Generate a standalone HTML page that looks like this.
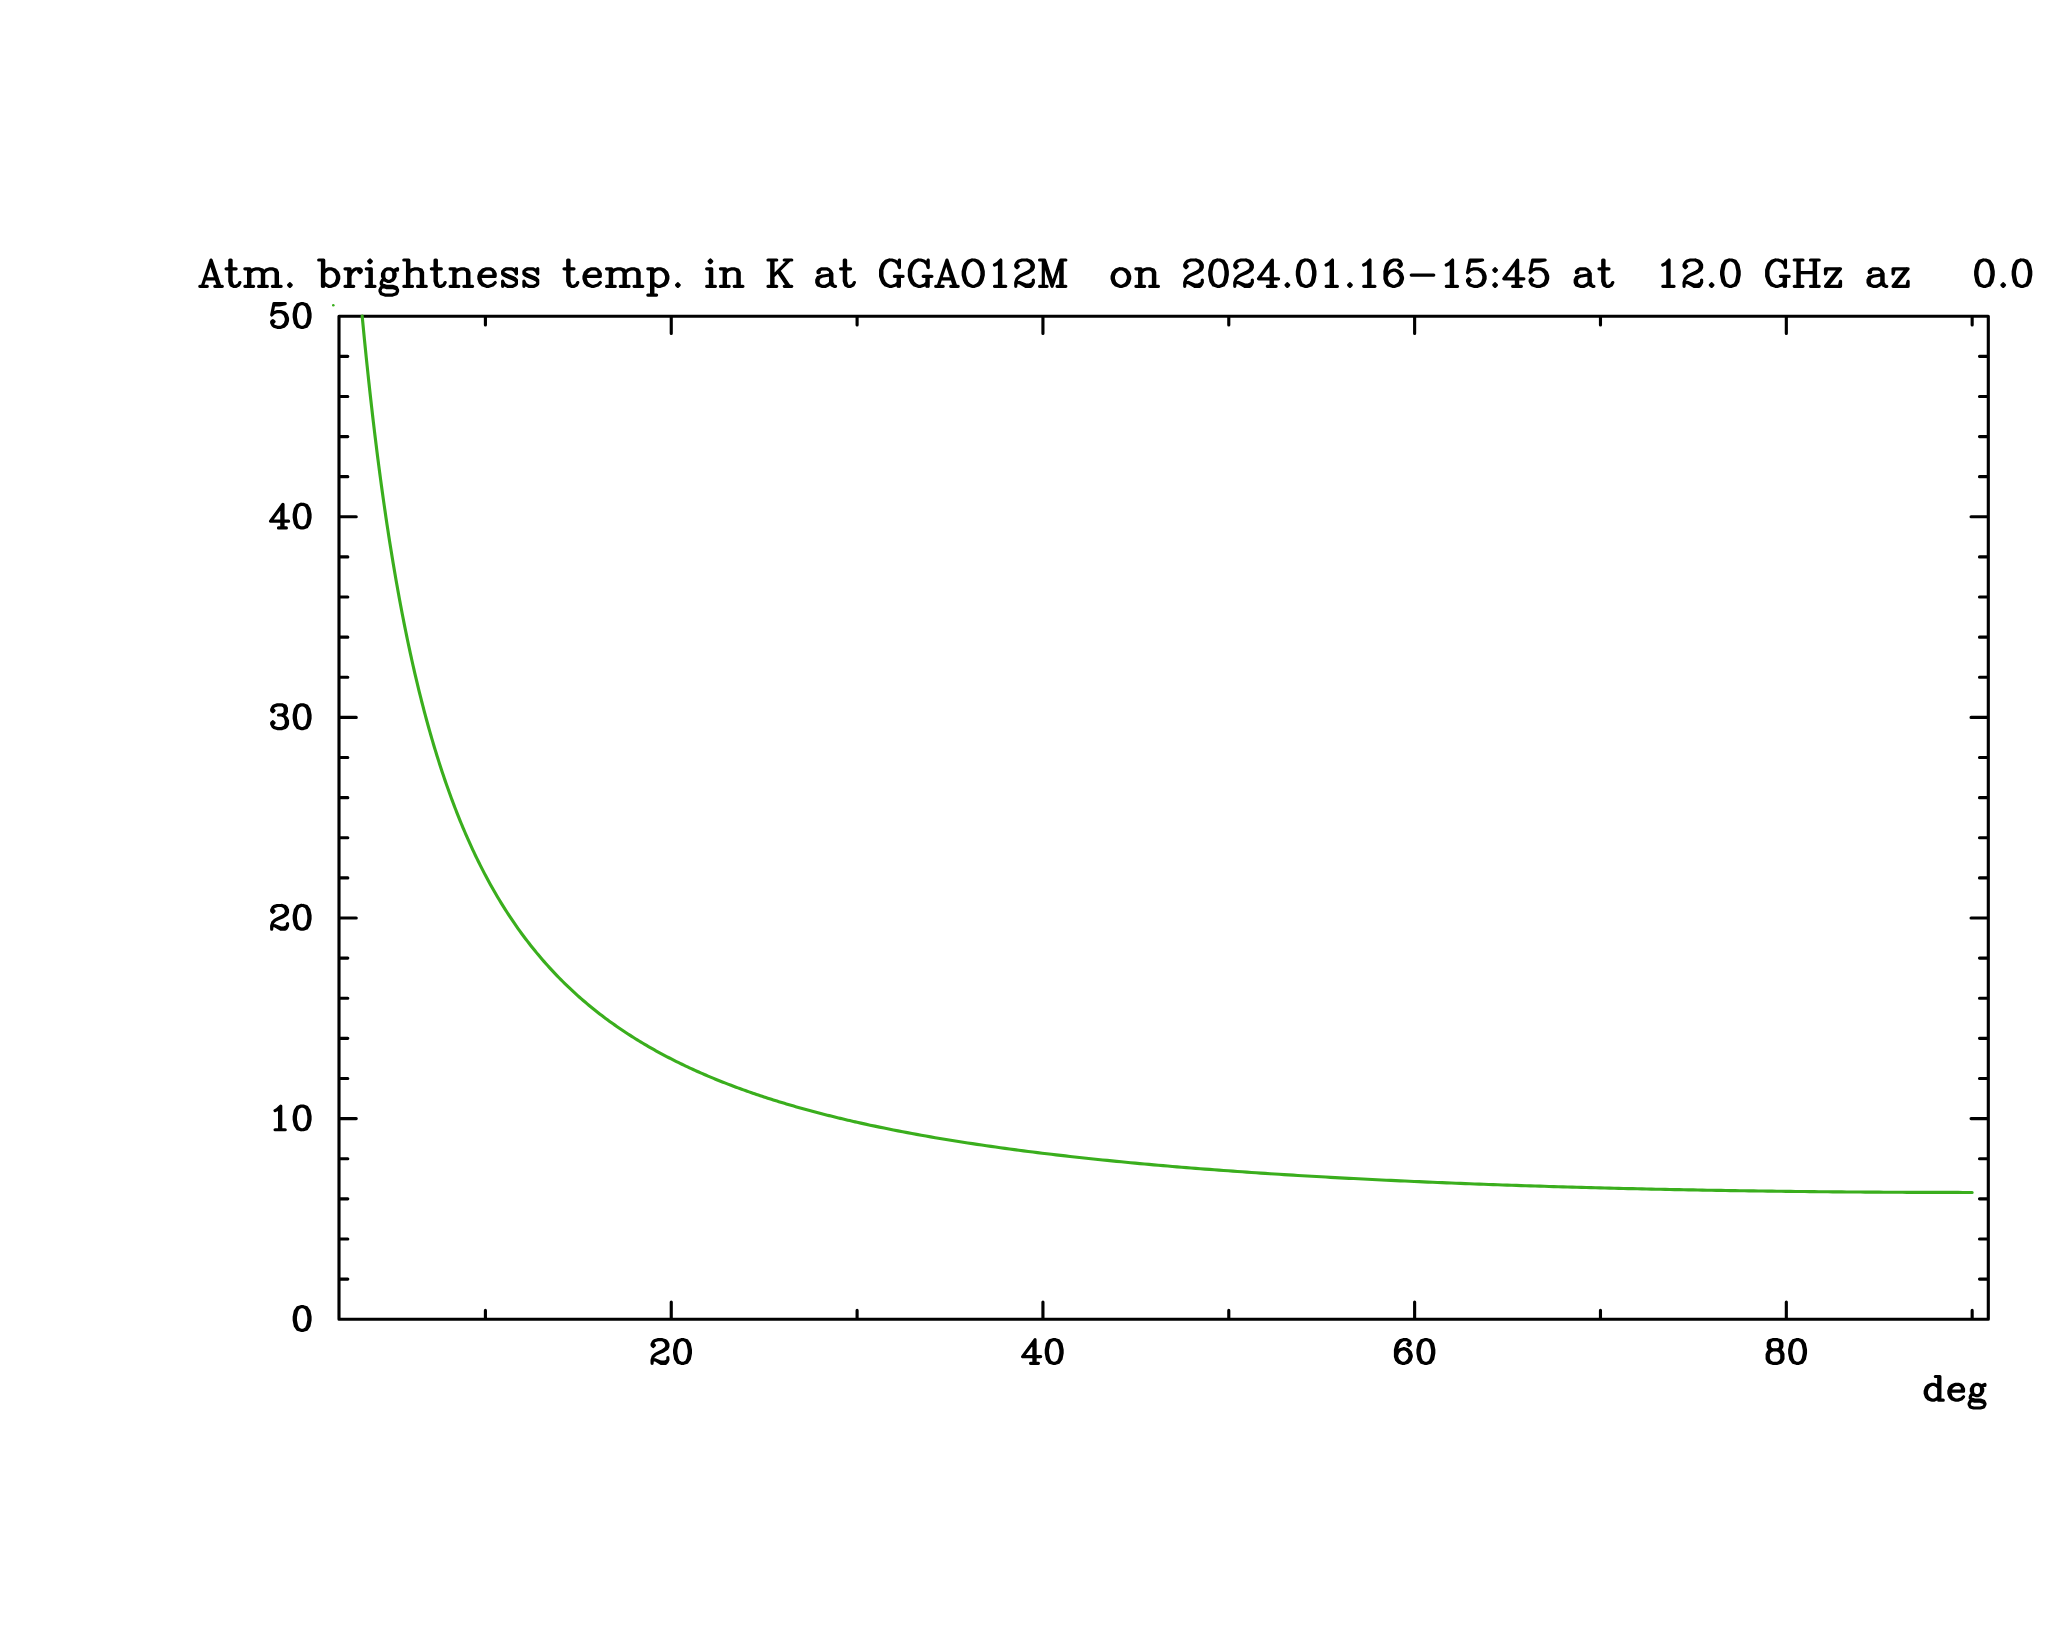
<!DOCTYPE html>
<html><head><meta charset="utf-8"><title>Atm. brightness temp.</title>
<style>html,body{margin:0;padding:0;background:#fff;font-family:"Liberation Sans",sans-serif}body{width:2048px;height:1635px;overflow:hidden}</style></head>
<body>
<svg width="2048" height="1635" viewBox="0 0 2048 1635" style="display:block" role="img" aria-label="Atm. brightness temp. in K at GGAO12M on 2024.01.16-15:45 at 12.0 GHz az 0.0">
<desc>Atm. brightness temp. in K at GGAO12M  on 2024.01.16-15:45 at  12.0 GHz az   0.0 | y axis: 0 10 20 30 40 50 | x axis: 20 40 60 80 deg</desc>
<rect width="2048" height="1635" fill="#fff"/>
<path d="M339,316.2H1988.3V1319.2H339ZM485.41,1319.2v-8.8M485.41,316.2v8.8M671.25,1319.2v-17.25M671.25,316.2v17.25M857.1,1319.2v-8.8M857.1,316.2v8.8M1042.94,1319.2v-17.25M1042.94,316.2v17.25M1228.78,1319.2v-8.8M1228.78,316.2v8.8M1414.63,1319.2v-17.25M1414.63,316.2v17.25M1600.47,1319.2v-8.8M1600.47,316.2v8.8M1786.32,1319.2v-17.25M1786.32,316.2v17.25M1972.16,1319.2v-8.8M1972.16,316.2v8.8M339,1279.08h8.8M1988.3,1279.08h-8.8M339,1238.96h8.8M1988.3,1238.96h-8.8M339,1198.84h8.8M1988.3,1198.84h-8.8M339,1158.72h8.8M1988.3,1158.72h-8.8M339,1118.6h17.25M1988.3,1118.6h-17.25M339,1078.48h8.8M1988.3,1078.48h-8.8M339,1038.36h8.8M1988.3,1038.36h-8.8M339,998.24h8.8M1988.3,998.24h-8.8M339,958.12h8.8M1988.3,958.12h-8.8M339,918h17.25M1988.3,918h-17.25M339,877.88h8.8M1988.3,877.88h-8.8M339,837.76h8.8M1988.3,837.76h-8.8M339,797.64h8.8M1988.3,797.64h-8.8M339,757.52h8.8M1988.3,757.52h-8.8M339,717.4h17.25M1988.3,717.4h-17.25M339,677.28h8.8M1988.3,677.28h-8.8M339,637.16h8.8M1988.3,637.16h-8.8M339,597.04h8.8M1988.3,597.04h-8.8M339,556.92h8.8M1988.3,556.92h-8.8M339,516.8h17.25M1988.3,516.8h-17.25M339,476.68h8.8M1988.3,476.68h-8.8M339,436.56h8.8M1988.3,436.56h-8.8M339,396.44h8.8M1988.3,396.44h-8.8M339,356.32h8.8M1988.3,356.32h-8.8" fill="none" stroke="#000" stroke-width="3.13" stroke-linecap="round" stroke-linejoin="round"/>
<polyline points="362.17,316 362.71,321.64 363.6,330.93 364.5,340.05 365.4,349.01 366.29,357.81 367.19,366.46 368.08,374.94 368.98,383.28 369.87,391.48 370.77,399.53 371.67,407.44 372.56,415.22 373.46,422.87 374.35,430.39 375.25,437.78 376.15,445.05 377.04,452.2 377.94,459.23 378.83,466.15 379.73,472.96 380.62,479.66 381.52,486.25 382.42,492.73 383.31,499.12 384.21,505.4 385.1,511.59 386,517.68 386.89,523.68 387.79,529.59 388.69,535.41 389.58,541.14 390.48,546.79 391.37,552.35 392.27,557.83 393.17,563.23 394.06,568.55 394.96,573.8 395.85,578.97 396.75,584.06 397.64,589.09 398.54,594.04 399.44,598.92 400.33,603.74 401.23,608.49 402.12,613.17 403.02,617.79 403.91,622.35 404.81,626.85 405.71,631.28 406.6,635.66 407.5,639.98 408.39,644.24 409.29,648.44 410.18,652.59 411.08,656.69 411.98,660.73 412.87,664.73 413.77,668.67 414.66,672.56 415.56,676.4 416.46,680.2 417.35,683.94 418.25,687.65 419.14,691.3 420.04,694.91 420.93,698.48 421.83,702 422.73,705.48 423.62,708.92 424.52,712.32 425.41,715.68 426.31,719 427.2,722.28 428.1,725.52 429,728.72 429.89,731.89 430.79,735.02 431.68,738.11 432.58,741.17 433.48,744.2 434.37,747.19 435.27,750.15 436.16,753.07 437.06,755.96 437.95,758.82 438.85,761.65 439.75,764.45 440.64,767.22 441.54,769.96 442.43,772.66 443.33,775.34 444.22,777.99 445.12,780.62 446.02,783.21 446.91,785.78 447.81,788.32 448.7,790.83 449.6,793.32 450.49,795.79 451.39,798.22 452.29,800.64 453.18,803.03 454.08,805.39 454.97,807.73 455.87,810.05 456.77,812.34 457.66,814.61 458.56,816.86 459.45,819.09 460.35,821.29 461.24,823.48 462.14,825.64 463.04,827.78 463.93,829.9 464.83,832 465.72,834.08 466.62,836.14 467.51,838.18 468.41,840.21 469.31,842.21 470.2,844.19 471.1,846.16 471.99,848.11 472.89,850.04 473.78,851.95 474.68,853.84 475.58,855.72 476.47,857.58 477.37,859.43 478.26,861.25 479.16,863.06 480.06,864.86 480.95,866.64 481.85,868.4 482.74,870.15 483.64,871.88 484.53,873.6 485.43,875.3 486.36,877.05 488.22,880.51 490.09,883.91 491.95,887.26 493.81,890.54 495.67,893.77 497.54,896.94 499.4,900.06 501.26,903.12 503.13,906.13 504.99,909.1 506.85,912.01 508.72,914.88 510.58,917.7 512.44,920.48 514.31,923.21 516.17,925.9 518.03,928.54 519.89,931.15 521.76,933.71 523.62,936.23 525.48,938.72 527.35,941.17 529.21,943.58 531.07,945.95 532.94,948.29 534.8,950.6 536.66,952.87 538.53,955.11 540.39,957.31 542.25,959.49 544.11,961.63 545.98,963.74 547.84,965.82 549.7,967.88 551.57,969.9 553.43,971.9 555.29,973.87 557.16,975.81 559.02,977.73 560.88,979.62 562.75,981.49 564.61,983.33 566.47,985.14 568.33,986.93 570.2,988.7 572.06,990.45 573.92,992.17 575.79,993.87 577.65,995.55 579.51,997.21 581.38,998.85 583.24,1000.47 585.1,1002.06 586.96,1003.64 588.83,1005.2 590.69,1006.74 592.55,1008.26 594.42,1009.76 596.28,1011.24 598.14,1012.71 600.01,1014.15 601.87,1015.58 603.73,1017 605.6,1018.4 607.46,1019.78 609.32,1021.14 611.18,1022.49 613.05,1023.83 614.91,1025.14 616.77,1026.45 618.64,1027.74 620.5,1029.01 622.36,1030.27 624.23,1031.52 626.09,1032.75 627.95,1033.97 629.82,1035.18 631.68,1036.37 633.54,1037.55 635.4,1038.72 637.27,1039.87 639.13,1041.01 640.99,1042.14 642.86,1043.26 644.72,1044.37 646.58,1045.46 648.45,1046.54 650.31,1047.62 652.17,1048.68 654.04,1049.73 655.9,1050.77 657.76,1051.8 659.62,1052.81 661.49,1053.82 663.35,1054.82 665.21,1055.81 667.08,1056.79 668.94,1057.75 670.8,1058.71 672.67,1059.66 674.53,1060.6 676.39,1061.53 678.26,1062.46 680.12,1063.37 681.98,1064.27 683.84,1065.17 685.71,1066.06 687.57,1066.93 689.43,1067.8 691.3,1068.67 693.16,1069.52 695.02,1070.37 696.89,1071.21 698.75,1072.04 700.61,1072.86 702.48,1073.67 704.34,1074.48 706.2,1075.28 708.06,1076.08 709.93,1076.86 711.79,1077.64 713.65,1078.41 715.52,1079.18 717.38,1079.94 719.24,1080.69 721.11,1081.44 722.97,1082.17 724.83,1082.91 726.7,1083.63 728.56,1084.35 730.42,1085.06 732.28,1085.77 734.15,1086.47 736.01,1087.17 737.87,1087.86 739.74,1088.54 741.6,1089.22 743.46,1089.89 745.33,1090.56 747.19,1091.22 749.05,1091.87 750.92,1092.52 752.78,1093.17 754.64,1093.81 756.5,1094.44 758.37,1095.07 760.23,1095.69 762.09,1096.31 763.96,1096.92 765.82,1097.53 767.68,1098.14 769.55,1098.73 771.41,1099.33 773.27,1099.92 775.13,1100.5 777,1101.08 778.86,1101.66 780.72,1102.23 782.59,1102.79 784.45,1103.36 786.31,1103.91 788.18,1104.47 790.04,1105.02 791.9,1105.56 793.77,1106.1 795.63,1106.64 797.49,1107.17 799.35,1107.7 801.22,1108.22 803.08,1108.74 804.94,1109.26 806.81,1109.77 808.67,1110.28 810.53,1110.79 812.4,1111.29 814.26,1111.79 816.12,1112.28 817.99,1112.77 819.85,1113.26 821.71,1113.74 823.57,1114.22 825.44,1114.7 827.3,1115.17 829.16,1115.64 831.03,1116.1 832.89,1116.57 834.75,1117.03 836.62,1117.48 838.48,1117.94 840.34,1118.38 842.21,1118.83 844.07,1119.27 845.93,1119.71 847.79,1120.15 849.66,1120.58 851.52,1121.02 853.38,1121.44 855.25,1121.87 857.11,1122.29 860.83,1123.12 865.48,1124.15 870.13,1125.16 874.78,1126.15 879.43,1127.13 884.08,1128.09 888.73,1129.03 893.38,1129.96 898.03,1130.87 902.68,1131.77 907.33,1132.65 911.98,1133.52 916.63,1134.38 921.28,1135.22 925.93,1136.05 930.58,1136.86 935.23,1137.67 939.87,1138.46 944.52,1139.24 949.17,1140 953.82,1140.76 958.47,1141.5 963.12,1142.23 967.77,1142.96 972.42,1143.67 977.07,1144.37 981.72,1145.06 986.37,1145.74 991.02,1146.41 995.67,1147.07 1000.32,1147.72 1004.97,1148.36 1009.62,1148.99 1014.27,1149.62 1018.92,1150.23 1023.57,1150.84 1028.22,1151.43 1032.87,1152.02 1037.52,1152.6 1042.17,1153.18 1046.82,1153.74 1051.47,1154.3 1056.12,1154.85 1060.77,1155.39 1065.42,1155.92 1070.07,1156.45 1074.72,1156.97 1079.37,1157.48 1084.02,1157.99 1088.67,1158.49 1093.32,1158.98 1097.97,1159.47 1102.62,1159.95 1107.27,1160.42 1111.92,1160.89 1116.57,1161.35 1121.22,1161.81 1125.87,1162.26 1130.52,1162.7 1135.17,1163.14 1139.82,1163.57 1144.47,1164 1149.12,1164.42 1153.77,1164.83 1158.42,1165.24 1163.07,1165.65 1167.72,1166.05 1172.37,1166.44 1177.02,1166.83 1181.67,1167.22 1186.32,1167.6 1190.97,1167.97 1195.62,1168.34 1200.27,1168.71 1204.92,1169.07 1209.57,1169.43 1214.22,1169.78 1218.87,1170.13 1223.52,1170.47 1228.17,1170.81 1232.82,1171.15 1237.47,1171.48 1242.12,1171.81 1246.77,1172.13 1251.42,1172.45 1256.07,1172.77 1260.72,1173.08 1265.37,1173.38 1270.02,1173.69 1274.67,1173.99 1279.32,1174.29 1283.97,1174.58 1288.62,1174.87 1293.27,1175.15 1297.92,1175.44 1302.57,1175.71 1307.22,1175.99 1311.87,1176.26 1316.52,1176.53 1321.17,1176.8 1325.82,1177.06 1330.47,1177.32 1335.12,1177.57 1339.77,1177.83 1344.42,1178.07 1349.07,1178.32 1353.71,1178.56 1358.36,1178.81 1363.01,1179.04 1367.66,1179.28 1372.31,1179.51 1376.96,1179.74 1381.61,1179.96 1386.26,1180.19 1390.91,1180.41 1395.56,1180.63 1400.21,1180.84 1404.86,1181.05 1409.51,1181.26 1414.16,1181.47 1418.81,1181.68 1423.46,1181.88 1428.11,1182.08 1432.76,1182.27 1437.41,1182.47 1442.06,1182.66 1446.71,1182.85 1451.36,1183.04 1456.01,1183.22 1460.66,1183.41 1465.31,1183.59 1469.96,1183.76 1474.61,1183.94 1479.26,1184.11 1483.91,1184.28 1488.56,1184.45 1493.21,1184.62 1497.86,1184.78 1502.51,1184.95 1507.16,1185.11 1511.81,1185.26 1516.46,1185.42 1521.11,1185.57 1525.76,1185.73 1530.41,1185.88 1535.06,1186.02 1539.71,1186.17 1544.36,1186.31 1549.01,1186.45 1553.66,1186.59 1558.31,1186.73 1562.96,1186.87 1567.61,1187 1572.26,1187.13 1576.91,1187.26 1581.56,1187.39 1586.21,1187.52 1590.86,1187.64 1595.51,1187.76 1600.16,1187.88 1604.81,1188 1609.46,1188.12 1614.11,1188.24 1618.76,1188.35 1623.41,1188.46 1628.06,1188.57 1632.71,1188.68 1637.36,1188.79 1642.01,1188.89 1646.66,1188.99 1651.31,1189.1 1655.96,1189.2 1660.61,1189.29 1665.26,1189.39 1669.91,1189.49 1674.56,1189.58 1679.21,1189.67 1683.86,1189.76 1688.51,1189.85 1693.16,1189.93 1697.81,1190.02 1702.46,1190.1 1707.11,1190.19 1711.76,1190.27 1716.41,1190.34 1721.06,1190.42 1725.71,1190.5 1730.36,1190.57 1735.01,1190.64 1739.66,1190.71 1744.31,1190.78 1748.96,1190.85 1753.61,1190.92 1758.26,1190.98 1762.91,1191.05 1767.55,1191.11 1772.2,1191.17 1776.85,1191.23 1781.5,1191.29 1786.15,1191.34 1790.8,1191.4 1795.45,1191.45 1800.1,1191.5 1804.75,1191.55 1809.4,1191.6 1814.05,1191.65 1818.7,1191.7 1823.35,1191.74 1828,1191.78 1832.65,1191.83 1837.3,1191.87 1841.95,1191.9 1846.6,1191.94 1851.25,1191.98 1855.9,1192.01 1860.55,1192.05 1865.2,1192.08 1869.85,1192.11 1874.5,1192.14 1879.15,1192.17 1883.8,1192.19 1888.45,1192.22 1893.1,1192.24 1897.75,1192.26 1902.4,1192.29 1907.05,1192.31 1911.7,1192.32 1916.35,1192.34 1921,1192.36 1925.65,1192.37 1930.3,1192.38 1934.95,1192.39 1939.6,1192.4 1944.25,1192.41 1948.9,1192.42 1953.55,1192.43 1958.2,1192.43 1962.85,1192.44 1967.5,1192.44 1972.15,1192.44" fill="none" stroke="#3AAE1D" stroke-width="3.13" stroke-linecap="round" stroke-linejoin="round"/>
<circle cx="333.3" cy="305.2" r="1.3" fill="#3AAE1D"/>
<path d="M652.1,1361.09L652.1,1359.97 653.22,1356.59 655.48,1354.34 657.73,1353.21 663.36,1350.96 666.74,1348.7 667.87,1346.45 667.87,1344.2 666.74,1341.94 665.62,1340.82 662.24,1339.69 657.73,1339.69 654.35,1340.82 653.22,1341.94 652.1,1344.2 652.1,1345.32 653.22,1346.45 654.35,1345.32 653.22,1344.2M652.1,1361.09L653.22,1359.97 655.48,1359.97 661.11,1362.22 664.49,1362.22 666.74,1361.09 667.87,1359.97 667.87,1357.71M652.1,1361.09L652.1,1363.35M655.48,1359.97L661.11,1363.35 665.62,1363.35 666.74,1362.22 667.87,1359.97M657.73,1353.21L662.24,1350.96 665.62,1348.7 666.74,1346.45 666.74,1344.2 665.62,1341.94 664.49,1340.82 662.24,1339.69M681.39,1339.69L683.64,1339.69 685.9,1340.82 687.02,1341.94 688.15,1344.2 689.28,1349.83 689.28,1353.21 688.15,1358.84 687.02,1361.09 685.9,1362.22 683.64,1363.35 687.02,1362.22 689.28,1358.84 690.4,1353.21 690.4,1349.83 689.28,1344.2 687.02,1340.82 683.64,1339.69M681.39,1339.69L678.01,1340.82 675.76,1344.2 674.63,1349.83 674.63,1353.21 675.76,1358.84 678.01,1362.22 681.39,1363.35 679.14,1362.22 678.01,1361.09 676.88,1358.84 675.76,1353.21 675.76,1349.83 676.88,1344.2 678.01,1341.94 679.14,1340.82 681.39,1339.69M681.39,1363.35L683.64,1363.35M1030.55,1363.35L1033.93,1363.35 1033.93,1341.94M1033.93,1363.35L1035.05,1363.35 1035.05,1339.69 1022.66,1356.59 1040.69,1356.59M1035.05,1363.35L1038.43,1363.35M1053.08,1339.69L1055.33,1339.69 1057.59,1340.82 1058.71,1341.94 1059.84,1344.2 1060.97,1349.83 1060.97,1353.21 1059.84,1358.84 1058.71,1361.09 1057.59,1362.22 1055.33,1363.35 1058.71,1362.22 1060.97,1358.84 1062.09,1353.21 1062.09,1349.83 1060.97,1344.2 1058.71,1340.82 1055.33,1339.69M1053.08,1339.69L1049.7,1340.82 1047.45,1344.2 1046.32,1349.83 1046.32,1353.21 1047.45,1358.84 1049.7,1362.22 1053.08,1363.35 1050.83,1362.22 1049.7,1361.09 1048.57,1358.84 1047.45,1353.21 1047.45,1349.83 1048.57,1344.2 1049.7,1341.94 1050.83,1340.82 1053.08,1339.69M1053.08,1363.35L1055.33,1363.35M1396.6,1355.46L1397.73,1352.08 1399.98,1349.83 1403.36,1348.7 1404.49,1348.7 1406.74,1349.83 1409,1352.08 1410.12,1355.46 1410.12,1356.59 1409,1359.97 1406.74,1362.22 1404.49,1363.35 1407.87,1362.22 1410.12,1359.97 1411.25,1356.59 1411.25,1355.46 1410.12,1352.08 1407.87,1349.83 1404.49,1348.7M1396.6,1355.46L1396.6,1349.83 1397.73,1345.32 1398.86,1343.07 1401.11,1340.82 1403.36,1339.69 1406.74,1339.69 1409,1340.82 1410.12,1343.07 1410.12,1344.2 1409,1345.32 1407.87,1344.2 1409,1343.07M1396.6,1355.46L1396.6,1356.59 1397.73,1359.97 1399.98,1362.22 1402.24,1363.35 1398.86,1362.22 1396.6,1359.97 1395.48,1356.59 1395.48,1349.83 1396.6,1345.32 1397.73,1343.07 1399.98,1340.82 1403.36,1339.69M1402.24,1363.35L1404.49,1363.35M1424.77,1339.69L1427.02,1339.69 1429.28,1340.82 1430.4,1341.94 1431.53,1344.2 1432.66,1349.83 1432.66,1353.21 1431.53,1358.84 1430.4,1361.09 1429.28,1362.22 1427.02,1363.35 1430.4,1362.22 1432.66,1358.84 1433.78,1353.21 1433.78,1349.83 1432.66,1344.2 1430.4,1340.82 1427.02,1339.69M1424.77,1339.69L1421.39,1340.82 1419.14,1344.2 1418.01,1349.83 1418.01,1353.21 1419.14,1358.84 1421.39,1362.22 1424.77,1363.35 1422.52,1362.22 1421.39,1361.09 1420.26,1358.84 1419.14,1353.21 1419.14,1349.83 1420.26,1344.2 1421.39,1341.94 1422.52,1340.82 1424.77,1339.69M1424.77,1363.35L1427.02,1363.35M1772.8,1339.69L1777.31,1339.69 1779.56,1340.82 1780.69,1343.07 1780.69,1346.45 1779.56,1348.7 1777.31,1349.83 1780.69,1348.7 1781.81,1346.45 1781.81,1343.07 1780.69,1340.82 1777.31,1339.69M1772.8,1339.69L1769.42,1340.82 1768.29,1343.07 1768.29,1346.45 1769.42,1348.7 1772.8,1349.83 1770.55,1348.7 1769.42,1346.45 1769.42,1343.07 1770.55,1340.82 1772.8,1339.69M1772.8,1349.83L1777.31,1349.83 1779.56,1350.96 1780.69,1352.08 1781.81,1354.34 1781.81,1358.84 1780.69,1361.09 1779.56,1362.22 1777.31,1363.35 1780.69,1362.22 1781.81,1361.09 1782.94,1358.84 1782.94,1354.34 1781.81,1352.08 1780.69,1350.96 1777.31,1349.83M1772.8,1349.83L1769.42,1350.96 1768.29,1352.08 1767.17,1354.34 1767.17,1358.84 1768.29,1361.09 1769.42,1362.22 1772.8,1363.35 1770.55,1362.22 1769.42,1361.09 1768.29,1358.84 1768.29,1354.34 1769.42,1352.08 1770.55,1350.96 1772.8,1349.83M1772.8,1363.35L1777.31,1363.35M1796.46,1339.69L1798.71,1339.69 1800.97,1340.82 1802.09,1341.94 1803.22,1344.2 1804.35,1349.83 1804.35,1353.21 1803.22,1358.84 1802.09,1361.09 1800.97,1362.22 1798.71,1363.35 1802.09,1362.22 1804.35,1358.84 1805.47,1353.21 1805.47,1349.83 1804.35,1344.2 1802.09,1340.82 1798.71,1339.69M1796.46,1339.69L1793.08,1340.82 1790.83,1344.2 1789.7,1349.83 1789.7,1353.21 1790.83,1358.84 1793.08,1362.22 1796.46,1363.35 1794.21,1362.22 1793.08,1361.09 1791.95,1358.84 1790.83,1353.21 1790.83,1349.83 1791.95,1344.2 1793.08,1341.94 1794.21,1340.82 1796.46,1339.69M1796.46,1363.35L1798.71,1363.35M301,1306.68L303.26,1306.68 305.51,1307.81 306.64,1308.93 307.76,1311.18 308.89,1316.82 308.89,1320.2 307.76,1325.83 306.64,1328.08 305.51,1329.21 303.26,1330.34 306.64,1329.21 308.89,1325.83 310.02,1320.2 310.02,1316.82 308.89,1311.18 306.64,1307.81 303.26,1306.68M301,1306.68L297.62,1307.81 295.37,1311.18 294.24,1316.82 294.24,1320.2 295.37,1325.83 297.62,1329.21 301,1330.34 298.75,1329.21 297.62,1328.08 296.5,1325.83 295.37,1320.2 295.37,1316.82 296.5,1311.18 297.62,1308.93 298.75,1307.81 301,1306.68M301,1330.34L303.26,1330.34M275.09,1110.58L277.35,1109.46 280.73,1106.08 280.73,1129.74 279.6,1129.74 279.6,1107.21M275.09,1129.74L279.6,1129.74M280.73,1129.74L285.23,1129.74M301,1106.08L303.26,1106.08 305.51,1107.21 306.64,1108.33 307.76,1110.58 308.89,1116.22 308.89,1119.6 307.76,1125.23 306.64,1127.48 305.51,1128.61 303.26,1129.74 306.64,1128.61 308.89,1125.23 310.02,1119.6 310.02,1116.22 308.89,1110.58 306.64,1107.21 303.26,1106.08M301,1106.08L297.62,1107.21 295.37,1110.58 294.24,1116.22 294.24,1119.6 295.37,1125.23 297.62,1128.61 301,1129.74 298.75,1128.61 297.62,1127.48 296.5,1125.23 295.37,1119.6 295.37,1116.22 296.5,1110.58 297.62,1108.33 298.75,1107.21 301,1106.08M301,1129.74L303.26,1129.74M271.71,926.88L271.71,925.76 272.84,922.38 275.09,920.12 277.35,919 282.98,916.74 286.36,914.49 287.49,912.24 287.49,909.98 286.36,907.73 285.23,906.61 281.85,905.48 277.35,905.48 273.97,906.61 272.84,907.73 271.71,909.98 271.71,911.11 272.84,912.24 273.97,911.11 272.84,909.98M271.71,926.88L272.84,925.76 275.09,925.76 280.73,928.01 284.11,928.01 286.36,926.88 287.49,925.76 287.49,923.5M271.71,926.88L271.71,929.14M275.09,925.76L280.73,929.14 285.23,929.14 286.36,928.01 287.49,925.76M277.35,919L281.85,916.74 285.23,914.49 286.36,912.24 286.36,909.98 285.23,907.73 284.11,906.61 281.85,905.48M301,905.48L303.26,905.48 305.51,906.61 306.64,907.73 307.76,909.98 308.89,915.62 308.89,919 307.76,924.63 306.64,926.88 305.51,928.01 303.26,929.14 306.64,928.01 308.89,924.63 310.02,919 310.02,915.62 308.89,909.98 306.64,906.61 303.26,905.48M301,905.48L297.62,906.61 295.37,909.98 294.24,915.62 294.24,919 295.37,924.63 297.62,928.01 301,929.14 298.75,928.01 297.62,926.88 296.5,924.63 295.37,919 295.37,915.62 296.5,909.98 297.62,907.73 298.75,906.61 301,905.48M301,929.14L303.26,929.14M272.84,709.38L273.97,710.51 272.84,711.64 271.71,710.51 271.71,709.38 272.84,707.13 273.97,706.01 277.35,704.88 281.85,704.88 284.11,706.01 285.23,708.26 285.23,711.64 284.11,713.89 281.85,715.02 285.23,713.89 286.36,711.64 286.36,708.26 285.23,706.01 281.85,704.88M272.84,724.03L273.97,722.9 272.84,721.78 271.71,722.9 271.71,724.03 272.84,726.28 273.97,727.41 277.35,728.54 281.85,728.54 284.11,727.41 285.23,726.28 286.36,724.03 286.36,720.65 285.23,717.27 284.11,716.14 281.85,715.02 278.47,715.02M281.85,728.54L285.23,727.41 286.36,726.28 287.49,724.03 287.49,720.65 286.36,718.4 285.23,717.27M301,704.88L303.26,704.88 305.51,706.01 306.64,707.13 307.76,709.38 308.89,715.02 308.89,718.4 307.76,724.03 306.64,726.28 305.51,727.41 303.26,728.54 306.64,727.41 308.89,724.03 310.02,718.4 310.02,715.02 308.89,709.38 306.64,706.01 303.26,704.88M301,704.88L297.62,706.01 295.37,709.38 294.24,715.02 294.24,718.4 295.37,724.03 297.62,727.41 301,728.54 298.75,727.41 297.62,726.28 296.5,724.03 295.37,718.4 295.37,715.02 296.5,709.38 297.62,707.13 298.75,706.01 301,704.88M301,728.54L303.26,728.54M278.47,527.94L281.85,527.94 281.85,506.53M281.85,527.94L282.98,527.94 282.98,504.28 270.59,521.18 288.61,521.18M282.98,527.94L286.36,527.94M301,504.28L303.26,504.28 305.51,505.41 306.64,506.53 307.76,508.78 308.89,514.42 308.89,517.8 307.76,523.43 306.64,525.68 305.51,526.81 303.26,527.94 306.64,526.81 308.89,523.43 310.02,517.8 310.02,514.42 308.89,508.78 306.64,505.41 303.26,504.28M301,504.28L297.62,505.41 295.37,508.78 294.24,514.42 294.24,517.8 295.37,523.43 297.62,526.81 301,527.94 298.75,526.81 297.62,525.68 296.5,523.43 295.37,517.8 295.37,514.42 296.5,508.78 297.62,506.53 298.75,505.41 301,504.28M301,527.94L303.26,527.94M272.84,322.83L273.97,321.7 272.84,320.58 271.71,321.7 271.71,322.83 272.84,325.08 273.97,326.21 277.35,327.34 280.73,327.34 282.98,326.21 285.23,323.96 286.36,320.58 286.36,318.32 285.23,314.94 282.98,312.69 280.73,311.56 277.35,311.56 273.97,312.69 271.71,314.94 273.97,303.68 285.23,303.68 279.6,304.81 273.97,304.81M280.73,311.56L284.11,312.69 286.36,314.94 287.49,318.32 287.49,320.58 286.36,323.96 284.11,326.21 280.73,327.34M301,303.68L303.26,303.68 305.51,304.81 306.64,305.93 307.76,308.18 308.89,313.82 308.89,317.2 307.76,322.83 306.64,325.08 305.51,326.21 303.26,327.34 306.64,326.21 308.89,322.83 310.02,317.2 310.02,313.82 308.89,308.18 306.64,304.81 303.26,303.68M301,303.68L297.62,304.81 295.37,308.18 294.24,313.82 294.24,317.2 295.37,322.83 297.62,326.21 301,327.34 298.75,326.21 297.62,325.08 296.5,322.83 295.37,317.2 295.37,313.82 296.5,308.18 297.62,305.93 298.75,304.81 301,303.68M301,327.34L303.26,327.34M1931.97,1384.37L1934.22,1384.37 1936.48,1385.49 1938.73,1387.75 1938.73,1376.48 1935.35,1376.48M1931.97,1384.37L1928.59,1385.49 1926.34,1387.75 1925.21,1391.13 1925.21,1393.38 1926.34,1396.76 1928.59,1399.01 1931.97,1400.14 1929.72,1399.01 1927.46,1396.76 1926.34,1393.38 1926.34,1391.13 1927.46,1387.75 1929.72,1385.49 1931.97,1384.37M1931.97,1400.14L1934.22,1400.14 1936.48,1399.01 1938.73,1396.76 1938.73,1387.75M1938.73,1376.48L1939.86,1376.48 1939.86,1400.14 1938.73,1400.14 1938.73,1396.76M1939.86,1400.14L1943.24,1400.14M1950,1391.13L1951.12,1387.75 1953.38,1385.49 1955.63,1384.37 1959.01,1384.37 1961.26,1385.49 1962.39,1386.62 1963.51,1388.87 1963.51,1391.13 1962.39,1391.13 1962.39,1387.75 1961.26,1385.49M1950,1391.13L1962.39,1391.13M1950,1391.13L1950,1393.38 1951.12,1396.76 1953.38,1399.01 1955.63,1400.14 1952.25,1399.01 1950,1396.76 1948.87,1393.38 1948.87,1391.13 1950,1387.75 1952.25,1385.49 1955.63,1384.37M1955.63,1400.14L1957.88,1400.14 1961.26,1399.01 1963.51,1396.76M1970.27,1397.88L1970.27,1396.76 1971.4,1394.51 1972.53,1393.38 1971.4,1391.13 1971.4,1388.87 1972.53,1386.62 1973.65,1385.49 1975.91,1384.37 1978.16,1384.37 1980.41,1385.49 1981.54,1386.62 1982.67,1385.49 1984.92,1384.37 1984.92,1385.49 1982.67,1385.49M1970.27,1397.88L1971.4,1399.01 1974.78,1400.14 1980.41,1400.14 1983.79,1401.26 1984.92,1403.52 1983.79,1402.39 1980.41,1401.26 1974.78,1401.26 1971.4,1400.14 1970.27,1397.88M1972.53,1393.38L1973.65,1394.51 1972.53,1392.25 1972.53,1387.75 1973.65,1385.49M1973.65,1394.51L1975.91,1395.63 1978.16,1395.63 1980.41,1394.51 1981.54,1392.25 1981.54,1387.75 1980.41,1385.49M1973.65,1400.14L1970.27,1401.26 1969.15,1403.52 1969.15,1404.64 1970.27,1406.9 1973.65,1408.02 1980.41,1408.02 1983.79,1406.9 1984.92,1404.64 1984.92,1403.52M1980.41,1394.51L1981.54,1393.38 1982.67,1391.13 1982.67,1388.87 1981.54,1386.62M199.8,286.3L202.3,286.3 211.06,260.02 219.83,286.3 218.57,286.3 211.06,263.77M202.3,286.3L207.31,286.3M204.81,278.79L216.07,278.79M214.82,286.3L218.57,286.3M219.83,286.3L222.33,286.3M226.08,268.78L229.84,268.78 229.84,260.02M231.09,260.02L231.09,268.78 229.84,268.78 229.84,281.29 231.09,285.05 233.59,286.3 232.34,285.05 231.09,281.29 231.09,268.78 236.1,268.78M233.59,286.3L236.1,286.3 238.6,285.05 239.85,282.55M244.86,268.78L249.86,268.78 249.86,272.53 252.36,270.03 256.12,268.78 258.62,268.78 261.12,270.03 262.38,272.53 262.38,286.3 258.62,286.3M244.86,286.3L248.61,286.3 248.61,268.78M248.61,286.3L249.86,286.3 249.86,272.53M249.86,286.3L253.62,286.3M258.62,268.78L262.38,270.03 263.63,272.53 266.13,270.03 269.89,268.78 272.39,268.78 274.89,270.03 276.14,272.53 276.14,286.3 272.39,286.3M262.38,286.3L263.63,286.3 263.63,272.53M263.63,286.3L267.38,286.3M272.39,268.78L276.14,270.03 277.39,272.53 277.39,286.3 276.14,286.3M277.39,286.3L281.15,286.3M288.66,285.05L289.91,283.8 291.16,285.05 289.91,286.3 288.66,285.05M318.69,260.02L323.7,260.02 323.7,272.53 326.2,270.03 328.71,268.78 331.21,268.78 333.71,270.03 336.22,272.53 337.47,276.29 337.47,278.79 336.22,282.55 333.71,285.05 331.21,286.3 334.96,285.05 337.47,282.55 338.72,278.79 338.72,276.29 337.47,272.53 334.96,270.03 331.21,268.78M322.45,260.02L322.45,286.3M323.7,272.53L323.7,286.3M323.7,282.55L326.2,285.05 328.71,286.3 331.21,286.3M344.98,268.78L349.98,268.78 349.98,276.29 351.23,272.53 353.74,270.03 356.24,268.78 359.99,268.78 361.25,270.03 361.25,271.28 359.99,272.53 358.74,271.28 359.99,270.03M344.98,286.3L348.73,286.3 348.73,268.78M348.73,286.3L349.98,286.3 349.98,276.29M349.98,286.3L353.74,286.3M366.25,268.78L371.26,268.78 371.26,286.3 370.01,286.3 370.01,268.78M366.25,286.3L370.01,286.3M371.26,286.3L375.01,286.3M368.75,261.27L370.01,260.02 371.26,261.27 370.01,262.52 368.75,261.27M381.27,283.8L381.27,282.55 382.52,280.04 383.77,278.79 382.52,276.29 382.52,273.79 383.77,271.28 385.02,270.03 387.53,268.78 390.03,268.78 392.53,270.03 393.78,271.28 395.04,270.03 397.54,268.78 397.54,270.03 395.04,270.03M381.27,283.8L382.52,285.05 386.28,286.3 392.53,286.3 396.29,287.55 397.54,290.05 396.29,288.8 392.53,287.55 386.28,287.55 382.52,286.3 381.27,283.8M383.77,278.79L385.02,280.04 383.77,277.54 383.77,272.53 385.02,270.03M385.02,280.04L387.53,281.29 390.03,281.29 392.53,280.04 393.78,277.54 393.78,272.53 392.53,270.03M385.02,286.3L381.27,287.55 380.02,290.05 380.02,291.31 381.27,293.81 385.02,295.06 392.53,295.06 396.29,293.81 397.54,291.31 397.54,290.05M392.53,280.04L393.78,278.79 395.04,276.29 395.04,273.79 393.78,271.28M403.8,260.02L408.8,260.02 408.8,272.53 411.31,270.03 415.06,268.78 417.56,268.78 420.07,270.03 421.32,272.53 421.32,286.3 417.56,286.3M403.8,286.3L407.55,286.3 407.55,260.02M407.55,286.3L408.8,286.3 408.8,272.53M408.8,286.3L412.56,286.3M417.56,268.78L421.32,270.03 422.57,272.53 422.57,286.3 421.32,286.3M422.57,286.3L426.32,286.3M431.33,268.78L435.08,268.78 435.08,260.02M436.34,260.02L436.34,268.78 435.08,268.78 435.08,281.29 436.34,285.05 438.84,286.3 437.59,285.05 436.34,281.29 436.34,268.78 441.34,268.78M438.84,286.3L441.34,286.3 443.84,285.05 445.1,282.55M450.1,268.78L455.11,268.78 455.11,272.53 457.61,270.03 461.37,268.78 463.87,268.78 466.37,270.03 467.62,272.53 467.62,286.3 463.87,286.3M450.1,286.3L453.86,286.3 453.86,268.78M453.86,286.3L455.11,286.3 455.11,272.53M455.11,286.3L458.86,286.3M463.87,268.78L467.62,270.03 468.87,272.53 468.87,286.3 467.62,286.3M468.87,286.3L472.63,286.3M480.14,276.29L481.39,272.53 483.89,270.03 486.4,268.78 490.15,268.78 492.65,270.03 493.9,271.28 495.16,273.79 495.16,276.29 493.9,276.29 493.9,272.53 492.65,270.03M480.14,276.29L493.9,276.29M480.14,276.29L480.14,278.79 481.39,282.55 483.89,285.05 486.4,286.3 482.64,285.05 480.14,282.55 478.89,278.79 478.89,276.29 480.14,272.53 482.64,270.03 486.4,268.78M486.4,286.3L488.9,286.3 492.65,285.05 495.16,282.55M502.66,272.53L502.66,271.28 503.92,270.03 506.42,268.78 511.43,268.78 513.93,270.03 515.18,271.28 516.43,268.78 516.43,273.79 515.18,271.28M502.66,272.53L502.66,273.79 503.92,275.04 506.42,276.29 512.68,278.79 515.18,280.04 516.43,281.29 516.43,280.04 515.18,278.79 512.68,277.54 506.42,275.04 503.92,273.79 502.66,272.53M503.92,283.8L502.66,281.29 502.66,286.3 503.92,283.8 505.17,285.05 507.67,286.3 512.68,286.3 515.18,285.05 516.43,283.8 516.43,281.29M523.94,272.53L523.94,271.28 525.19,270.03 527.69,268.78 532.7,268.78 535.2,270.03 536.46,271.28 537.71,268.78 537.71,273.79 536.46,271.28M523.94,272.53L523.94,273.79 525.19,275.04 527.69,276.29 533.95,278.79 536.46,280.04 537.71,281.29 537.71,280.04 536.46,278.79 533.95,277.54 527.69,275.04 525.19,273.79 523.94,272.53M525.19,283.8L523.94,281.29 523.94,286.3 525.19,283.8 526.44,285.05 528.95,286.3 533.95,286.3 536.46,285.05 537.71,283.8 537.71,281.29M563.99,268.78L567.74,268.78 567.74,260.02M568.99,260.02L568.99,268.78 567.74,268.78 567.74,281.29 568.99,285.05 571.5,286.3 570.25,285.05 568.99,281.29 568.99,268.78 574,268.78M571.5,286.3L574,286.3 576.5,285.05 577.75,282.55M585.26,276.29L586.52,272.53 589.02,270.03 591.52,268.78 595.28,268.78 597.78,270.03 599.03,271.28 600.28,273.79 600.28,276.29 599.03,276.29 599.03,272.53 597.78,270.03M585.26,276.29L599.03,276.29M585.26,276.29L585.26,278.79 586.52,282.55 589.02,285.05 591.52,286.3 587.77,285.05 585.26,282.55 584.01,278.79 584.01,276.29 585.26,272.53 587.77,270.03 591.52,268.78M591.52,286.3L594.02,286.3 597.78,285.05 600.28,282.55M606.54,268.78L611.55,268.78 611.55,272.53 614.05,270.03 617.8,268.78 620.31,268.78 622.81,270.03 624.06,272.53 624.06,286.3 620.31,286.3M606.54,286.3L610.29,286.3 610.29,268.78M610.29,286.3L611.55,286.3 611.55,272.53M611.55,286.3L615.3,286.3M620.31,268.78L624.06,270.03 625.31,272.53 627.81,270.03 631.57,268.78 634.07,268.78 636.58,270.03 637.83,272.53 637.83,286.3 634.07,286.3M624.06,286.3L625.31,286.3 625.31,272.53M625.31,286.3L629.07,286.3M634.07,268.78L637.83,270.03 639.08,272.53 639.08,286.3 637.83,286.3M639.08,286.3L642.83,286.3M647.84,268.78L652.84,268.78 652.84,272.53 655.35,270.03 657.85,268.78 660.35,268.78 662.86,270.03 665.36,272.53 666.61,276.29 666.61,278.79 665.36,282.55 662.86,285.05 660.35,286.3 664.11,285.05 666.61,282.55 667.86,278.79 667.86,276.29 666.61,272.53 664.11,270.03 660.35,268.78M647.84,295.06L651.59,295.06 651.59,268.78M651.59,295.06L652.84,295.06 652.84,272.53M652.84,282.55L655.35,285.05 657.85,286.3 660.35,286.3M652.84,295.06L656.6,295.06M676.62,285.05L677.87,283.8 679.13,285.05 677.87,286.3 676.62,285.05M706.66,268.78L711.67,268.78 711.67,286.3 710.41,286.3 710.41,268.78M706.66,286.3L710.41,286.3M711.67,286.3L715.42,286.3M709.16,261.27L710.41,260.02 711.67,261.27 710.41,262.52 709.16,261.27M720.43,268.78L725.43,268.78 725.43,272.53 727.93,270.03 731.69,268.78 734.19,268.78 736.7,270.03 737.95,272.53 737.95,286.3 734.19,286.3M720.43,286.3L724.18,286.3 724.18,268.78M724.18,286.3L725.43,286.3 725.43,272.53M725.43,286.3L729.19,286.3M734.19,268.78L737.95,270.03 739.2,272.53 739.2,286.3 737.95,286.3M739.2,286.3L742.95,286.3M767.98,260.02L776.74,260.02M767.98,286.3L771.74,286.3 771.74,260.02M771.74,286.3L772.99,286.3 772.99,260.02M772.99,276.29L789.26,260.02 784.25,260.02M772.99,286.3L776.74,286.3M777.99,271.28L788.01,286.3 784.25,286.3M779.25,271.28L789.26,286.3 788.01,286.3M789.26,260.02L791.76,260.02M789.26,286.3L791.76,286.3M819.29,271.28L819.29,272.53 818.04,272.53 818.04,271.28 819.29,270.03 821.8,268.78 826.8,268.78 829.31,270.03 830.56,271.28 830.56,273.79 829.31,275.04 821.8,276.29 818.04,277.54 816.79,280.04 816.79,282.55 818.04,285.05 821.8,286.3 819.29,285.05 818.04,282.55 818.04,280.04 819.29,277.54 821.8,276.29M821.8,286.3L825.55,286.3 828.05,285.05 830.56,282.55 830.56,273.79M830.56,271.28L831.81,273.79 831.81,282.55 833.06,285.05 834.31,286.3 831.81,285.05 830.56,282.55M834.31,286.3L835.56,286.3M840.57,268.78L844.32,268.78 844.32,260.02M845.58,260.02L845.58,268.78 844.32,268.78 844.32,281.29 845.58,285.05 848.08,286.3 846.83,285.05 845.58,281.29 845.58,268.78 850.58,268.78M848.08,286.3L850.58,286.3 853.08,285.05 854.34,282.55M889.38,260.02L891.88,260.02 895.64,261.27 898.14,263.77 899.39,260.02 899.39,267.53 898.14,263.77M889.38,260.02L885.62,261.27 883.12,263.77 881.87,266.28 880.62,270.03 880.62,276.29 881.87,280.04 883.12,282.55 885.62,285.05 889.38,286.3 886.88,285.05 884.37,282.55 883.12,280.04 881.87,276.29 881.87,270.03 883.12,266.28 884.37,263.77 886.88,261.27 889.38,260.02M889.38,286.3L891.88,286.3 895.64,285.05 898.14,282.55 898.14,276.29 894.38,276.29M898.14,276.29L903.14,276.29M898.14,282.55L898.14,286.3M899.39,276.29L899.39,286.3M918.16,260.02L920.67,260.02 924.42,261.27 926.92,263.77 928.17,260.02 928.17,267.53 926.92,263.77M918.16,260.02L914.41,261.27 911.91,263.77 910.65,266.28 909.4,270.03 909.4,276.29 910.65,280.04 911.91,282.55 914.41,285.05 918.16,286.3 915.66,285.05 913.16,282.55 911.91,280.04 910.65,276.29 910.65,270.03 911.91,266.28 913.16,263.77 915.66,261.27 918.16,260.02M918.16,286.3L920.67,286.3 924.42,285.05 926.92,282.55 926.92,276.29 923.17,276.29M926.92,276.29L931.93,276.29M926.92,282.55L926.92,286.3M928.17,276.29L928.17,286.3M935.68,286.3L938.19,286.3 946.95,260.02 955.71,286.3 954.46,286.3 946.95,263.77M938.19,286.3L943.19,286.3M940.69,278.79L951.95,278.79M950.7,286.3L954.46,286.3M955.71,286.3L958.21,286.3M971.98,260.02L974.48,260.02 976.98,261.27 979.49,263.77 980.74,266.28 981.99,271.28 981.99,275.04 980.74,280.04 979.49,282.55 976.98,285.05 974.48,286.3 978.23,285.05 980.74,282.55 981.99,280.04 983.24,275.04 983.24,271.28 981.99,266.28 980.74,263.77 978.23,261.27 974.48,260.02M971.98,260.02L968.22,261.27 965.72,263.77 964.47,266.28 963.22,271.28 963.22,275.04 964.47,280.04 965.72,282.55 968.22,285.05 971.98,286.3 969.47,285.05 966.97,282.55 965.72,280.04 964.47,275.04 964.47,271.28 965.72,266.28 966.97,263.77 969.47,261.27 971.98,260.02M971.98,286.3L974.48,286.3M994.5,265.02L997.01,263.77 1000.76,260.02 1000.76,286.3 999.51,286.3 999.51,261.27M994.5,286.3L999.51,286.3M1000.76,286.3L1005.77,286.3M1015.78,283.8L1015.78,282.55 1017.03,278.79 1019.53,276.29 1022.04,275.04 1028.29,272.53 1032.05,270.03 1033.3,267.53 1033.3,265.02 1032.05,262.52 1030.8,261.27 1027.04,260.02 1022.04,260.02 1018.28,261.27 1017.03,262.52 1015.78,265.02 1015.78,266.28 1017.03,267.53 1018.28,266.28 1017.03,265.02M1015.78,283.8L1017.03,282.55 1019.53,282.55 1025.79,285.05 1029.55,285.05 1032.05,283.8 1033.3,282.55 1033.3,280.04M1015.78,283.8L1015.78,286.3M1019.53,282.55L1025.79,286.3 1030.8,286.3 1032.05,285.05 1033.3,282.55M1022.04,275.04L1027.04,272.53 1030.8,270.03 1032.05,267.53 1032.05,265.02 1030.8,262.52 1029.55,261.27 1027.04,260.02M1039.56,260.02L1044.56,260.02 1052.07,282.55M1039.56,286.3L1043.31,286.3 1043.31,260.02 1052.07,286.3 1060.83,260.02 1065.84,260.02M1043.31,286.3L1047.07,286.3M1057.08,286.3L1060.83,286.3 1060.83,260.02M1060.83,286.3L1062.09,286.3 1062.09,260.02M1062.09,286.3L1065.84,286.3M1119.65,268.78L1122.16,268.78 1124.66,270.03 1127.16,272.53 1128.41,276.29 1128.41,278.79 1127.16,282.55 1124.66,285.05 1122.16,286.3 1125.91,285.05 1128.41,282.55 1129.67,278.79 1129.67,276.29 1128.41,272.53 1125.91,270.03 1122.16,268.78M1119.65,268.78L1115.9,270.03 1113.4,272.53 1112.14,276.29 1112.14,278.79 1113.4,282.55 1115.9,285.05 1119.65,286.3 1117.15,285.05 1114.65,282.55 1113.4,278.79 1113.4,276.29 1114.65,272.53 1117.15,270.03 1119.65,268.78M1119.65,286.3L1122.16,286.3M1135.92,268.78L1140.93,268.78 1140.93,272.53 1143.43,270.03 1147.19,268.78 1149.69,268.78 1152.19,270.03 1153.44,272.53 1153.44,286.3 1149.69,286.3M1135.92,286.3L1139.68,286.3 1139.68,268.78M1139.68,286.3L1140.93,286.3 1140.93,272.53M1140.93,286.3L1144.68,286.3M1149.69,268.78L1153.44,270.03 1154.7,272.53 1154.7,286.3 1153.44,286.3M1154.7,286.3L1158.45,286.3M1184.73,283.8L1184.73,282.55 1185.98,278.79 1188.49,276.29 1190.99,275.04 1197.25,272.53 1201,270.03 1202.25,267.53 1202.25,265.02 1201,262.52 1199.75,261.27 1196,260.02 1190.99,260.02 1187.23,261.27 1185.98,262.52 1184.73,265.02 1184.73,266.28 1185.98,267.53 1187.23,266.28 1185.98,265.02M1184.73,283.8L1185.98,282.55 1188.49,282.55 1194.74,285.05 1198.5,285.05 1201,283.8 1202.25,282.55 1202.25,280.04M1184.73,283.8L1184.73,286.3M1188.49,282.55L1194.74,286.3 1199.75,286.3 1201,285.05 1202.25,282.55M1190.99,275.04L1196,272.53 1199.75,270.03 1201,267.53 1201,265.02 1199.75,262.52 1198.5,261.27 1196,260.02M1217.27,260.02L1219.77,260.02 1222.28,261.27 1223.53,262.52 1224.78,265.02 1226.03,271.28 1226.03,275.04 1224.78,281.29 1223.53,283.8 1222.28,285.05 1219.77,286.3 1223.53,285.05 1226.03,281.29 1227.28,275.04 1227.28,271.28 1226.03,265.02 1223.53,261.27 1219.77,260.02M1217.27,260.02L1213.52,261.27 1211.01,265.02 1209.76,271.28 1209.76,275.04 1211.01,281.29 1213.52,285.05 1217.27,286.3 1214.77,285.05 1213.52,283.8 1212.26,281.29 1211.01,275.04 1211.01,271.28 1212.26,265.02 1213.52,262.52 1214.77,261.27 1217.27,260.02M1217.27,286.3L1219.77,286.3M1234.79,283.8L1234.79,282.55 1236.04,278.79 1238.55,276.29 1241.05,275.04 1247.31,272.53 1251.06,270.03 1252.31,267.53 1252.31,265.02 1251.06,262.52 1249.81,261.27 1246.06,260.02 1241.05,260.02 1237.29,261.27 1236.04,262.52 1234.79,265.02 1234.79,266.28 1236.04,267.53 1237.29,266.28 1236.04,265.02M1234.79,283.8L1236.04,282.55 1238.55,282.55 1244.8,285.05 1248.56,285.05 1251.06,283.8 1252.31,282.55 1252.31,280.04M1234.79,283.8L1234.79,286.3M1238.55,282.55L1244.8,286.3 1249.81,286.3 1251.06,285.05 1252.31,282.55M1241.05,275.04L1246.06,272.53 1249.81,270.03 1251.06,267.53 1251.06,265.02 1249.81,262.52 1248.56,261.27 1246.06,260.02M1267.33,286.3L1271.09,286.3 1271.09,262.52M1271.09,286.3L1272.34,286.3 1272.34,260.02 1258.57,278.79 1278.59,278.79M1272.34,286.3L1276.09,286.3M1286.1,285.05L1287.35,283.8 1288.61,285.05 1287.35,286.3 1286.1,285.05M1304.88,260.02L1307.38,260.02 1309.88,261.27 1311.13,262.52 1312.38,265.02 1313.64,271.28 1313.64,275.04 1312.38,281.29 1311.13,283.8 1309.88,285.05 1307.38,286.3 1311.13,285.05 1313.64,281.29 1314.89,275.04 1314.89,271.28 1313.64,265.02 1311.13,261.27 1307.38,260.02M1304.88,260.02L1301.12,261.27 1298.62,265.02 1297.37,271.28 1297.37,275.04 1298.62,281.29 1301.12,285.05 1304.88,286.3 1302.37,285.05 1301.12,283.8 1299.87,281.29 1298.62,275.04 1298.62,271.28 1299.87,265.02 1301.12,262.52 1302.37,261.27 1304.88,260.02M1304.88,286.3L1307.38,286.3M1326.15,265.02L1328.65,263.77 1332.41,260.02 1332.41,286.3 1331.16,286.3 1331.16,261.27M1326.15,286.3L1331.16,286.3M1332.41,286.3L1337.41,286.3M1348.68,285.05L1349.93,283.8 1351.18,285.05 1349.93,286.3 1348.68,285.05M1363.7,265.02L1366.2,263.77 1369.95,260.02 1369.95,286.3 1368.7,286.3 1368.7,261.27M1363.7,286.3L1368.7,286.3M1369.95,286.3L1374.96,286.3M1386.22,277.54L1387.47,273.79 1389.98,271.28 1393.73,270.03 1394.98,270.03 1397.49,271.28 1399.99,273.79 1401.24,277.54 1401.24,278.79 1399.99,282.55 1397.49,285.05 1394.98,286.3 1398.74,285.05 1401.24,282.55 1402.49,278.79 1402.49,277.54 1401.24,273.79 1398.74,271.28 1394.98,270.03M1386.22,277.54L1386.22,271.28 1387.47,266.28 1388.73,263.77 1391.23,261.27 1393.73,260.02 1397.49,260.02 1399.99,261.27 1401.24,263.77 1401.24,265.02 1399.99,266.28 1398.74,265.02 1399.99,263.77M1386.22,277.54L1386.22,278.79 1387.47,282.55 1389.98,285.05 1392.48,286.3 1388.73,285.05 1386.22,282.55 1384.97,278.79 1384.97,271.28 1386.22,266.28 1387.47,263.77 1389.98,261.27 1393.73,260.02M1392.48,286.3L1394.98,286.3M1411.25,275.04L1433.78,275.04M1446.3,265.02L1448.8,263.77 1452.55,260.02 1452.55,286.3 1451.3,286.3 1451.3,261.27M1446.3,286.3L1451.3,286.3M1452.55,286.3L1457.56,286.3M1468.82,281.29L1470.07,280.04 1468.82,278.79 1467.57,280.04 1467.57,281.29 1468.82,283.8 1470.07,285.05 1473.83,286.3 1477.58,286.3 1480.09,285.05 1482.59,282.55 1483.84,278.79 1483.84,276.29 1482.59,272.53 1480.09,270.03 1477.58,268.78 1473.83,268.78 1470.07,270.03 1467.57,272.53 1470.07,260.02 1482.59,260.02 1476.33,261.27 1470.07,261.27M1477.58,268.78L1481.34,270.03 1483.84,272.53 1485.09,276.29 1485.09,278.79 1483.84,282.55 1481.34,285.05 1477.58,286.3M1493.85,270.03L1495.1,268.78 1496.36,270.03 1495.1,271.28 1493.85,270.03M1493.85,285.05L1495.1,283.8 1496.36,285.05 1495.1,286.3 1493.85,285.05M1512.62,286.3L1516.38,286.3 1516.38,262.52M1516.38,286.3L1517.63,286.3 1517.63,260.02 1503.86,278.79 1523.89,278.79M1517.63,286.3L1521.39,286.3M1531.4,281.29L1532.65,280.04 1531.4,278.79 1530.15,280.04 1530.15,281.29 1531.4,283.8 1532.65,285.05 1536.4,286.3 1540.16,286.3 1542.66,285.05 1545.16,282.55 1546.42,278.79 1546.42,276.29 1545.16,272.53 1542.66,270.03 1540.16,268.78 1536.4,268.78 1532.65,270.03 1530.15,272.53 1532.65,260.02 1545.16,260.02 1538.91,261.27 1532.65,261.27M1540.16,268.78L1543.91,270.03 1546.42,272.53 1547.67,276.29 1547.67,278.79 1546.42,282.55 1543.91,285.05 1540.16,286.3M1577.7,271.28L1577.7,272.53 1576.45,272.53 1576.45,271.28 1577.7,270.03 1580.21,268.78 1585.21,268.78 1587.71,270.03 1588.97,271.28 1588.97,273.79 1587.71,275.04 1580.21,276.29 1576.45,277.54 1575.2,280.04 1575.2,282.55 1576.45,285.05 1580.21,286.3 1577.7,285.05 1576.45,282.55 1576.45,280.04 1577.7,277.54 1580.21,276.29M1580.21,286.3L1583.96,286.3 1586.46,285.05 1588.97,282.55 1588.97,273.79M1588.97,271.28L1590.22,273.79 1590.22,282.55 1591.47,285.05 1592.72,286.3 1590.22,285.05 1588.97,282.55M1592.72,286.3L1593.97,286.3M1598.98,268.78L1602.73,268.78 1602.73,260.02M1603.98,260.02L1603.98,268.78 1602.73,268.78 1602.73,281.29 1603.98,285.05 1606.49,286.3 1605.24,285.05 1603.98,281.29 1603.98,268.78 1608.99,268.78M1606.49,286.3L1608.99,286.3 1611.49,285.05 1612.74,282.55M1662.8,265.02L1665.31,263.77 1669.06,260.02 1669.06,286.3 1667.81,286.3 1667.81,261.27M1662.8,286.3L1667.81,286.3M1669.06,286.3L1674.07,286.3M1684.08,283.8L1684.08,282.55 1685.33,278.79 1687.83,276.29 1690.34,275.04 1696.6,272.53 1700.35,270.03 1701.6,267.53 1701.6,265.02 1700.35,262.52 1699.1,261.27 1695.34,260.02 1690.34,260.02 1686.58,261.27 1685.33,262.52 1684.08,265.02 1684.08,266.28 1685.33,267.53 1686.58,266.28 1685.33,265.02M1684.08,283.8L1685.33,282.55 1687.83,282.55 1694.09,285.05 1697.85,285.05 1700.35,283.8 1701.6,282.55 1701.6,280.04M1684.08,283.8L1684.08,286.3M1687.83,282.55L1694.09,286.3 1699.1,286.3 1700.35,285.05 1701.6,282.55M1690.34,275.04L1695.34,272.53 1699.1,270.03 1700.35,267.53 1700.35,265.02 1699.1,262.52 1697.85,261.27 1695.34,260.02M1710.36,285.05L1711.61,283.8 1712.86,285.05 1711.61,286.3 1710.36,285.05M1729.13,260.02L1731.64,260.02 1734.14,261.27 1735.39,262.52 1736.64,265.02 1737.89,271.28 1737.89,275.04 1736.64,281.29 1735.39,283.8 1734.14,285.05 1731.64,286.3 1735.39,285.05 1737.89,281.29 1739.15,275.04 1739.15,271.28 1737.89,265.02 1735.39,261.27 1731.64,260.02M1729.13,260.02L1725.38,261.27 1722.88,265.02 1721.63,271.28 1721.63,275.04 1722.88,281.29 1725.38,285.05 1729.13,286.3 1726.63,285.05 1725.38,283.8 1724.13,281.29 1722.88,275.04 1722.88,271.28 1724.13,265.02 1725.38,262.52 1726.63,261.27 1729.13,260.02M1729.13,286.3L1731.64,286.3M1775.44,260.02L1777.94,260.02 1781.7,261.27 1784.2,263.77 1785.45,260.02 1785.45,267.53 1784.2,263.77M1775.44,260.02L1771.69,261.27 1769.18,263.77 1767.93,266.28 1766.68,270.03 1766.68,276.29 1767.93,280.04 1769.18,282.55 1771.69,285.05 1775.44,286.3 1772.94,285.05 1770.43,282.55 1769.18,280.04 1767.93,276.29 1767.93,270.03 1769.18,266.28 1770.43,263.77 1772.94,261.27 1775.44,260.02M1775.44,286.3L1777.94,286.3 1781.7,285.05 1784.2,282.55 1784.2,276.29 1780.45,276.29M1784.2,276.29L1789.21,276.29M1784.2,282.55L1784.2,286.3M1785.45,276.29L1785.45,286.3M1794.21,260.02L1802.97,260.02M1794.21,286.3L1797.97,286.3 1797.97,260.02M1797.97,286.3L1799.22,286.3 1799.22,260.02M1799.22,272.53L1814.24,272.53 1814.24,260.02 1810.48,260.02M1799.22,286.3L1802.97,286.3M1810.48,286.3L1814.24,286.3 1814.24,272.53M1814.24,260.02L1819.24,260.02M1814.24,286.3L1815.49,286.3 1815.49,260.02M1815.49,286.3L1819.24,286.3M1826.75,268.78L1825.5,268.78 1825.5,273.79 1826.75,268.78 1840.52,268.78 1826.75,286.3 1825.5,286.3 1839.27,268.78M1826.75,286.3L1839.27,286.3 1840.52,281.29 1840.52,286.3 1839.27,286.3M1870.55,271.28L1870.55,272.53 1869.3,272.53 1869.3,271.28 1870.55,270.03 1873.06,268.78 1878.06,268.78 1880.57,270.03 1881.82,271.28 1881.82,273.79 1880.57,275.04 1873.06,276.29 1869.3,277.54 1868.05,280.04 1868.05,282.55 1869.3,285.05 1873.06,286.3 1870.55,285.05 1869.3,282.55 1869.3,280.04 1870.55,277.54 1873.06,276.29M1873.06,286.3L1876.81,286.3 1879.31,285.05 1881.82,282.55 1881.82,273.79M1881.82,271.28L1883.07,273.79 1883.07,282.55 1884.32,285.05 1885.57,286.3 1883.07,285.05 1881.82,282.55M1885.57,286.3L1886.82,286.3M1894.33,268.78L1893.08,268.78 1893.08,273.79 1894.33,268.78 1908.1,268.78 1894.33,286.3 1893.08,286.3 1906.85,268.78M1894.33,286.3L1906.85,286.3 1908.1,281.29 1908.1,286.3 1906.85,286.3M1983.19,260.02L1985.69,260.02 1988.19,261.27 1989.45,262.52 1990.7,265.02 1991.95,271.28 1991.95,275.04 1990.7,281.29 1989.45,283.8 1988.19,285.05 1985.69,286.3 1989.45,285.05 1991.95,281.29 1993.2,275.04 1993.2,271.28 1991.95,265.02 1989.45,261.27 1985.69,260.02M1983.19,260.02L1979.43,261.27 1976.93,265.02 1975.68,271.28 1975.68,275.04 1976.93,281.29 1979.43,285.05 1983.19,286.3 1980.69,285.05 1979.43,283.8 1978.18,281.29 1976.93,275.04 1976.93,271.28 1978.18,265.02 1979.43,262.52 1980.69,261.27 1983.19,260.02M1983.19,286.3L1985.69,286.3M2001.96,285.05L2003.21,283.8 2004.46,285.05 2003.21,286.3 2001.96,285.05M2020.73,260.02L2023.24,260.02 2025.74,261.27 2026.99,262.52 2028.24,265.02 2029.49,271.28 2029.49,275.04 2028.24,281.29 2026.99,283.8 2025.74,285.05 2023.24,286.3 2026.99,285.05 2029.49,281.29 2030.75,275.04 2030.75,271.28 2029.49,265.02 2026.99,261.27 2023.24,260.02M2020.73,260.02L2016.98,261.27 2014.48,265.02 2013.22,271.28 2013.22,275.04 2014.48,281.29 2016.98,285.05 2020.73,286.3 2018.23,285.05 2016.98,283.8 2015.73,281.29 2014.48,275.04 2014.48,271.28 2015.73,265.02 2016.98,262.52 2018.23,261.27 2020.73,260.02M2020.73,286.3L2023.24,286.3" fill="none" stroke="#000" stroke-width="3.2" stroke-linecap="round" stroke-linejoin="round"/>
</svg>
</body></html>
